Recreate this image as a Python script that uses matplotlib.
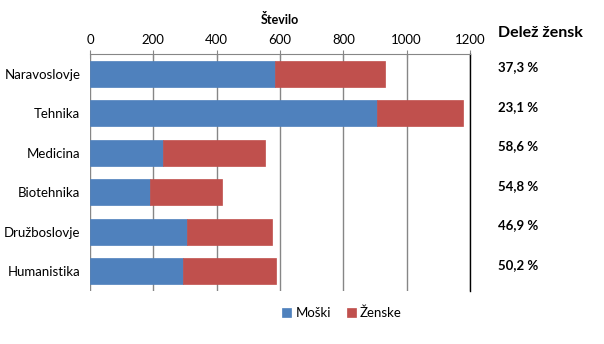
import matplotlib.pyplot as plt
import numpy as np

categories = ["Naravoslovje", "Tehnika", "Medicina", "Biotehnika", "Družboslovje", "Humanistika"]
moski = [585, 906, 229, 189, 305, 293]
zenske = [347, 272, 324, 229, 270, 295]
delez = ["37,3 %", "23,1 %", "58,6 %", "54,8 %", "46,9 %", "50,2 %"]

plt.rcParams["font.family"] = ["Lato", "DejaVu Sans"]

fig = plt.figure(figsize=(6.04, 3.44), dpi=100)
ax = fig.add_axes([90 / 604, 1 - 291 / 344, 380 / 604, 237 / 344])

y = np.arange(len(categories))
ax.barh(y, moski, height=0.65, color="#4F81BD", edgecolor="#4F81BD", linewidth=0.5, label="Moški", zorder=3)
ax.barh(y, zenske, left=moski, height=0.65, color="#C0504D", edgecolor="#C0504D", linewidth=0.5, label="Ženske", zorder=3)

ax.set_xlim(0, 1200)
ax.set_ylim(len(categories) - 0.5, -0.5)
ax.set_xticks(range(0, 1201, 200))
ax.xaxis.tick_top()
ax.xaxis.set_label_position("top")
ax.set_xlabel("Število", fontsize=9, fontweight="bold", labelpad=7)
ax.tick_params(axis="x", direction="inout", length=6, color="#868686", labelsize=9.5, pad=3)
ax.set_yticks(y)
ax.set_yticklabels(categories, fontsize=9.5)
ax.tick_params(axis="y", length=0, pad=7)
ax.grid(axis="x", color="#868686", linewidth=1, zorder=0)

for side in ["bottom", "left"]:
    ax.spines[side].set_visible(False)
ax.spines["top"].set_color("#868686")
ax.spines["right"].set_color("black")
ax.spines["right"].set_linewidth(1.0)

# right column with women share
fig.text(498 / 604, 1 - 33 / 344, "Delež žensk", fontsize=11.5, fontweight="bold", va="center")
for i, d in enumerate(delez):
    ax.annotate(d, xy=(1, i), xycoords=("axes fraction", "data"), xytext=(20.5, 4.5),
                textcoords="offset points", fontsize=9.5, fontweight="bold", va="center")

fig.legend(loc="center", bbox_to_anchor=(342 / 604, 1 - 313 / 344), ncol=2, frameon=False,
           fontsize=9.5, handlelength=0.7, handleheight=0.7, handletextpad=0.3, columnspacing=1.2)

fig.savefig("out.png", dpi=100)
